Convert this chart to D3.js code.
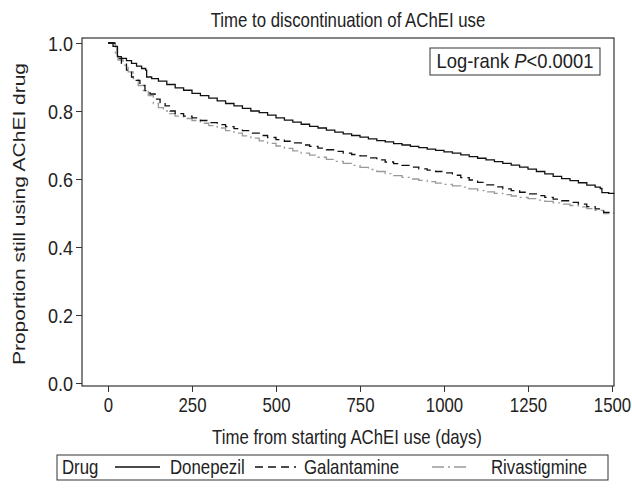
<!DOCTYPE html>
<html>
<head>
<meta charset="utf-8">
<script src="https://cdn.jsdelivr.net/npm/d3@7"></script>
<style>
  body { margin: 0; background: #fff; }
  text { font-family: "Liberation Sans", Arial, sans-serif; fill: #222; }
</style>
</head>
<body>
<svg id="chart" width="632" height="492"></svg>
<script>
// ---- data ----
var xTicks = [0, 250, 500, 750, 1000, 1250, 1500];
var yTicks = [0.0, 0.2, 0.4, 0.6, 0.8, 1.0];

var donepezilT = [0, 10, 15, 28, 40, 55, 70, 85, 100, 112, 115, 130, 150, 175, 200, 225, 250, 275, 300, 325, 350, 375, 400, 425, 450, 475, 500, 525, 550, 575, 600, 625, 650, 675, 700, 725, 750, 775, 800, 825, 850, 875, 900, 925, 950, 975, 1000, 1025, 1050, 1075, 1100, 1125, 1150, 1175, 1200, 1225, 1250, 1275, 1300, 1325, 1350, 1375, 1400, 1425, 1450, 1465, 1470, 1490, 1505];
var donepezilS = [1.0, 1.0, 0.99, 0.96, 0.955, 0.948, 0.94, 0.932, 0.925, 0.92, 0.90, 0.895, 0.888, 0.878, 0.868, 0.861, 0.852, 0.845, 0.838, 0.83, 0.822, 0.815, 0.808, 0.80, 0.795, 0.788, 0.78, 0.773, 0.767, 0.761, 0.755, 0.75, 0.744, 0.738, 0.733, 0.728, 0.723, 0.718, 0.713, 0.709, 0.704, 0.70, 0.696, 0.692, 0.688, 0.684, 0.68, 0.676, 0.671, 0.666, 0.661, 0.656, 0.651, 0.646, 0.641, 0.635, 0.629, 0.622, 0.615, 0.608, 0.601, 0.595, 0.589, 0.582, 0.576, 0.572, 0.56, 0.558, 0.556];

var galantamineT = [0, 12, 20, 28, 40, 55, 70, 80, 95, 110, 125, 140, 155, 170, 185, 200, 225, 250, 275, 300, 325, 350, 375, 400, 425, 450, 475, 500, 525, 550, 575, 600, 625, 650, 675, 700, 725, 750, 775, 800, 825, 850, 875, 900, 925, 950, 975, 1000, 1025, 1050, 1075, 1100, 1125, 1150, 1175, 1200, 1225, 1250, 1275, 1300, 1325, 1350, 1375, 1400, 1425, 1450, 1475, 1505];
var galantamineS = [1.0, 1.0, 0.99, 0.955, 0.94, 0.92, 0.90, 0.89, 0.875, 0.86, 0.85, 0.835, 0.825, 0.815, 0.80, 0.792, 0.785, 0.78, 0.772, 0.766, 0.76, 0.754, 0.748, 0.742, 0.735, 0.728, 0.722, 0.716, 0.711, 0.706, 0.70, 0.696, 0.691, 0.686, 0.681, 0.676, 0.672, 0.668, 0.662, 0.656, 0.65, 0.645, 0.64, 0.635, 0.63, 0.626, 0.622, 0.618, 0.611, 0.604, 0.597, 0.59, 0.583, 0.577, 0.571, 0.566, 0.561, 0.556, 0.551, 0.546, 0.541, 0.536, 0.531, 0.526, 0.519, 0.512, 0.502, 0.498];

var rivastigmineT = [0, 12, 22, 30, 45, 60, 75, 90, 105, 120, 135, 150, 165, 180, 200, 225, 250, 275, 300, 325, 350, 375, 400, 425, 450, 475, 500, 525, 550, 575, 600, 625, 650, 675, 700, 725, 750, 775, 800, 825, 850, 875, 900, 925, 950, 975, 1000, 1025, 1050, 1075, 1100, 1125, 1150, 1175, 1200, 1225, 1250, 1275, 1300, 1325, 1350, 1375, 1400, 1425, 1450, 1475, 1505];
var rivastigmineS = [1.0, 1.0, 0.97, 0.95, 0.935, 0.915, 0.895, 0.875, 0.86, 0.845, 0.822, 0.81, 0.80, 0.792, 0.785, 0.778, 0.772, 0.764, 0.757, 0.75, 0.742, 0.735, 0.727, 0.72, 0.712, 0.705, 0.697, 0.69, 0.683, 0.676, 0.67, 0.664, 0.658, 0.652, 0.646, 0.64, 0.634, 0.628, 0.622, 0.616, 0.61, 0.605, 0.60, 0.596, 0.592, 0.588, 0.584, 0.58, 0.576, 0.571, 0.566, 0.562, 0.558, 0.554, 0.55, 0.546, 0.542, 0.538, 0.534, 0.53, 0.526, 0.522, 0.518, 0.513, 0.508, 0.498, 0.49];

var drugs = ["Donepezil", "Galantamine", "Rivastigmine"];

/**************************
 * Layout
 **************************/
var svg = d3.select("#chart");
var frame = { left: 82, right: 614, top: 38, bottom: 386 };
var FS = 20;        // font size (vertical)
var SX = 0.84;      // the figure's text is squeezed horizontally

var x = d3.scaleLinear().domain([0, 1500]).range([108, 612]);
var y = d3.scaleLinear().domain([0, 1]).range([383, 43]);

var styles = {
	Donepezil:    { stroke: "#111", dash: null, width: 1.3 },
	Galantamine:  { stroke: "#111", dash: "8,5", width: 1.3 },
	Rivastigmine: { stroke: "#999", dash: "12,4,2,4", width: 1.3 }
};

// squeezed text helper
function label(g, px, py, str, anchor, sx) {
	return g.append("text")
		.attr("transform", "translate(" + px + "," + py + ") scale(" + (sx || SX) + ",1)")
		.attr("text-anchor", anchor || "start")
		.style("font-size", FS + "px")
		.text(str);
}

function zipSeries(ts, ss) {
	return ts.map(function(t, i) { return { t: t, s: ss[i] }; });
}
var series = [
	{ name: "Donepezil", values: zipSeries(donepezilT, donepezilS) },
	{ name: "Galantamine", values: zipSeries(galantamineT, galantamineS) },
	{ name: "Rivastigmine", values: zipSeries(rivastigmineT, rivastigmineS) }
];

// title
label(svg, 348, 27, "Time to discontinuation of AChEI use", "middle");

// axes
var yAxis = d3.axisLeft(y).tickValues(yTicks).tickFormat(d3.format(".1f")).tickSize(6).tickPadding(4);
var gy = svg.append("g").attr("transform", "translate(" + frame.left + ",0)").call(yAxis);
gy.select(".domain").remove();
gy.selectAll("line").attr("stroke", "#333");
gy.selectAll("text").attr("x", null).attr("dy", "0.35em")
	.attr("transform", "translate(-9,0) scale(0.9,1)")
	.style("font-size", FS + "px").attr("fill", "#222");

var xAxis = d3.axisBottom(x).tickValues(xTicks).tickFormat(d3.format("d")).tickSize(6).tickPadding(6);
var gx = svg.append("g").attr("transform", "translate(0," + frame.bottom + ")").call(xAxis);
gx.select(".domain").remove();
gx.selectAll("line").attr("stroke", "#333");
gx.selectAll("text").attr("transform", "scale(" + SX + ",1)")
	.style("font-size", FS + "px").attr("fill", "#222");

// frame
svg.append("rect").attr("x", frame.left).attr("y", frame.top)
	.attr("width", frame.right - frame.left).attr("height", frame.bottom - frame.top)
	.attr("fill", "none").attr("stroke", "#333").attr("stroke-width", 1.2);

// axis titles
label(svg, 347, 444, "Time from starting AChEI use (days)", "middle");
svg.append("text")
	.attr("transform", "translate(25,214) scale(0.8,1) rotate(-90)")
	.attr("text-anchor", "middle").style("font-size", "21px")
	.text("Proportion still using AChEI drug");

// curves (Kaplan-Meier steps)
var line = d3.line().curve(d3.curveStepAfter)
	.x(function(d) { return x(d.t); })
	.y(function(d) { return y(d.s); });

svg.append("g").selectAll("path").data(series.slice().reverse()).enter().append("path")
	.attr("d", function(d) { return line(d.values); })
	.attr("fill", "none")
	.attr("stroke", function(d) { return styles[d.name].stroke; })
	.attr("stroke-width", function(d) { return styles[d.name].width; })
	.attr("stroke-dasharray", function(d) { return styles[d.name].dash; });

// log-rank box
svg.append("rect").attr("x", 430).attr("y", 48).attr("width", 170).attr("height", 27)
	.attr("fill", "#fff").attr("stroke", "#333").attr("stroke-width", 1);
var lr = label(svg, 515, 68, "", "middle", 0.92);
lr.append("tspan").text("Log-rank ");
lr.append("tspan").style("font-style", "italic").text("P");
lr.append("tspan").text("<0.0001");

// legend
var leg = svg.append("g");
leg.append("rect").attr("x", 57).attr("y", 455).attr("width", 551).attr("height", 25)
	.attr("fill", "none").attr("stroke", "#333").attr("stroke-width", 1);
label(leg, 62, 474, "Drug");

var legPos = { Donepezil: [115, 160, 170], Galantamine: [255, 296, 304], Rivastigmine: [432, 469, 491] };
drugs.forEach(function(name) {
	var p = legPos[name], st = styles[name];
	leg.append("line").attr("x1", p[0]).attr("x2", p[1]).attr("y1", 467).attr("y2", 467)
		.attr("stroke", st.stroke).attr("stroke-width", st.width)
		.attr("stroke-dasharray", st.dash);
	label(leg, p[2], 474, name);
});
</script>
</body>
</html>
